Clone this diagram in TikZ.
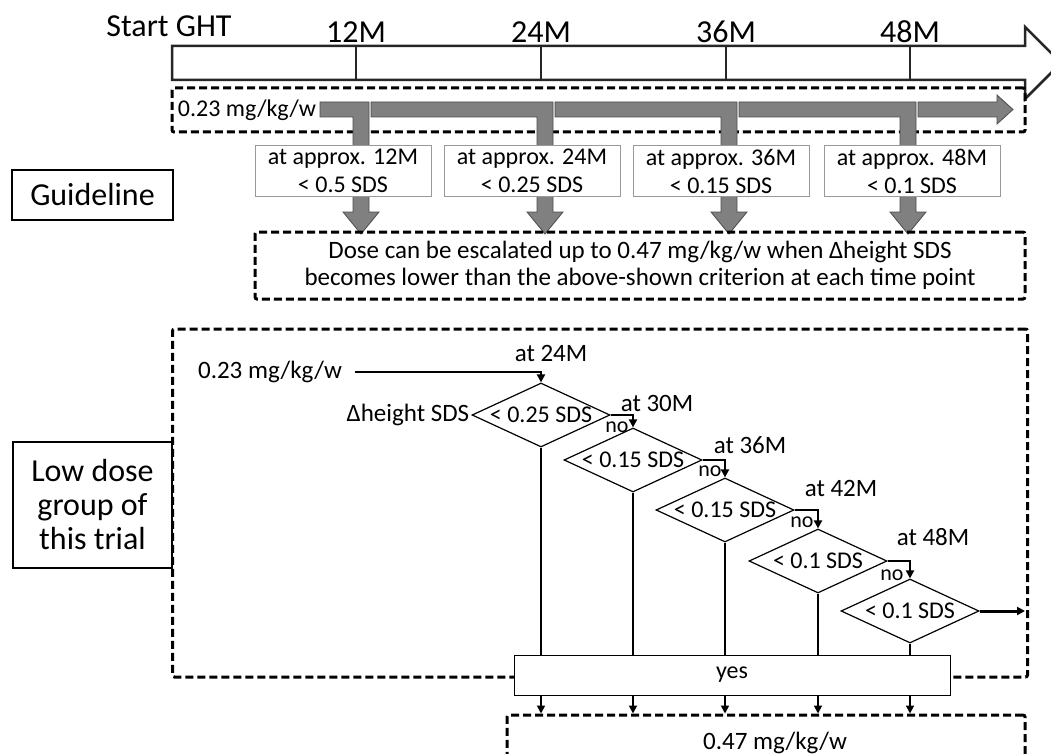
\documentclass[tikz,border=0pt]{standalone}
\usepackage{fontspec}
\setmainfont{Carlito}
\usetikzlibrary{shapes.geometric,arrows.meta}

\begin{document}
\begin{tikzpicture}[
        x=1pt,y=-1pt,
        font=\fontsize{25}{28}\selectfont,
        big/.style={font=\fontsize{32}{34}\selectfont},
        small/.style={font=\fontsize{22}{24}\selectfont},
        dbox/.style={draw,line width=3pt,dash pattern=on 8pt off 4pt,rounded corners=2pt},
        lbl/.style={draw,line width=2.5pt,align=center,inner sep=0pt},
        crit/.style={draw=black!40,fill=white,line width=1pt,align=center,inner sep=0pt,minimum width=176pt,minimum height=50pt,font=\fontsize{24}{28}\selectfont},
        grayarrow/.style={fill=black!50,draw=black!70,line width=0.8pt},
        dec/.style={diamond,draw,line width=1.2pt,aspect=2.16,inner sep=0pt,minimum width=138pt,minimum height=64pt,font=\fontsize{24}{28}\selectfont},
        conn/.style={line width=2.5pt,-{Triangle[length=8pt,width=8pt]}},
        link/.style={line width=2.5pt}
        ]
        \useasboundingbox (0,0) rectangle (1051,754);

        % time line
        \draw[line width=2.5pt,draw=black!85,line join=miter] (172,46) -- (1025,46) -- (1025,27) -- (1061,63) -- (1025,99) -- (1025,80) -- (172,80) -- cycle;
        \draw[line width=2pt,draw=black!85] (356,46) -- (356,80);
        \draw[line width=2pt,draw=black!85] (541,46) -- (541,80);
        \draw[line width=2pt,draw=black!85] (726,46) -- (726,80);
        \draw[line width=2pt,draw=black!85] (910,46) -- (910,80);

        \node[big] (m0) at (169,26) {Start GHT};
        \node[big] (m12) at (356,32) {12M};
        \node[big] (m24) at (541,32) {24M};
        \node[big] (m36) at (726,32) {36M};
        \node[big] (m48) at (910,32) {48M};

        % guideline
        \node[lbl,big,minimum width=161pt,minimum height=50pt] (guide) at (92.5,195) {Guideline};
        \node[dbox,minimum width=853pt,minimum height=44pt] (base) at (598.5,110) {};
        \node[font=\fontsize{24}{28}\selectfont] (start) at (247,110) {0.23 mg/kg/w};

        \filldraw[grayarrow] (320,102) -- (369,102) -- (369,212) -- (379,212) -- (361,234) -- (343,212) -- (353,212) -- (353,117) -- (320,117) -- cycle;
        \filldraw[grayarrow] (371,102) -- (553,102) -- (553,212) -- (563,212) -- (545,234) -- (527,212) -- (537,212) -- (537,117) -- (371,117) -- cycle;
        \filldraw[grayarrow] (555,102) -- (737,102) -- (737,212) -- (747,212) -- (729,234) -- (711,212) -- (721,212) -- (721,117) -- (555,117) -- cycle;
        \filldraw[grayarrow] (739,102) -- (916,102) -- (916,212) -- (926,212) -- (908,234) -- (890,212) -- (900,212) -- (900,117) -- (739,117) -- cycle;
        \filldraw[grayarrow] (918,102) -- (997,102) -- (997,95) -- (1013,109.5) -- (997,124) -- (997,117) -- (918,117) -- cycle;

        \node[crit] (c12) at (343,171) {at approx. 12M\\< 0.5 SDS};
        \node[crit] (c24) at (532,171) {at approx. 24M\\< 0.25 SDS};
        \node[crit] (c36) at (721,171) {at approx. 36M\\< 0.15 SDS};
        \node[crit] (c48) at (912,171) {at approx. 48M\\< 0.1 SDS};

        \node[dbox,align=center,minimum width=770pt,minimum height=67pt,font=\fontsize{25}{27}\selectfont] (rule) at (640,265.5) {Dose can be escalated up to 0.47 mg/kg/w when Δheight SDS\\becomes lower than the above-shown criterion at each time point};

        % low dose group
        \node[dbox,minimum width=855pt,minimum height=348pt] (trial) at (600,503) {};
        \node[lbl,big,fill=white,minimum width=159pt,minimum height=126pt] (low) at (92.5,505) {Low dose\\group of\\this trial};

        \node (dose1) at (270,372) {0.23 mg/kg/w};
        \node[dec] (d24) at (541,415) {< 0.25 SDS};
        \node[dec] (d30) at (633,460) {< 0.15 SDS};
        \node[dec] (d36) at (725,510) {< 0.15 SDS};
        \node[dec] (d42) at (818,561) {< 0.1 SDS};
        \node[dec] (d48) at (910,611) {< 0.1 SDS};
        \node[anchor=east,inner sep=2pt] (dh) at (d24.west) {Δheight SDS};

        \node (t24) at (551,353) {at 24M};
        \node (t30) at (657,403) {at 30M};
        \node (t36) at (750,445) {at 36M};
        \node (t42) at (841,488) {at 42M};
        \node (t48) at (933,537) {at 48M};

        \node[small] (n30) at (617,427) {no};
        \node[small] (n36) at (710,471) {no};
        \node[small] (n42) at (802,522) {no};
        \node[small] (n48) at (892,575) {no};

        \draw[conn,shorten <=10pt] (dose1.east) -| (d24.north);
        \draw[conn] (d24.east) -| (d30.north);
        \draw[conn] (d30.east) -| (d36.north);
        \draw[conn] (d36.east) -| (d42.north);
        \draw[conn] (d42.east) -| (d48.north);
        \coordinate (exit) at (1025,611);
        \draw[conn,line width=3pt] (d48.east) -- (exit);

        \node[draw,fill=white,line width=1pt,minimum width=436pt,minimum height=40pt,font=\fontsize{24}{28}\selectfont] (yes) at (732,675) {yes};
        \node[dbox,minimum width=518pt,minimum height=80pt] (final) at (766,755) {};
        \node (high) at (775,743) {0.47 mg/kg/w};

        \draw[link] (d24.south) -- (d24.south |- yes.north);
        \draw[link] (d30.south) -- (d30.south |- yes.north);
        \draw[link] (d36.south) -- (d36.south |- yes.north);
        \draw[link] (d42.south) -- (d42.south |- yes.north);
        \draw[link] (d48.south) -- (d48.south |- yes.north);

        \draw[conn,line width=1.8pt] (d24.south |- yes.south) -- (d24.south |- final.north);
        \draw[conn,line width=1.8pt] (d30.south |- yes.south) -- (d30.south |- final.north);
        \draw[conn,line width=1.8pt] (d36.south |- yes.south) -- (d36.south |- final.north);
        \draw[conn,line width=1.8pt] (d42.south |- yes.south) -- (d42.south |- final.north);
        \draw[conn,line width=1.8pt] (d48.south |- yes.south) -- (d48.south |- final.north);
    \end{tikzpicture}
\end{document}
